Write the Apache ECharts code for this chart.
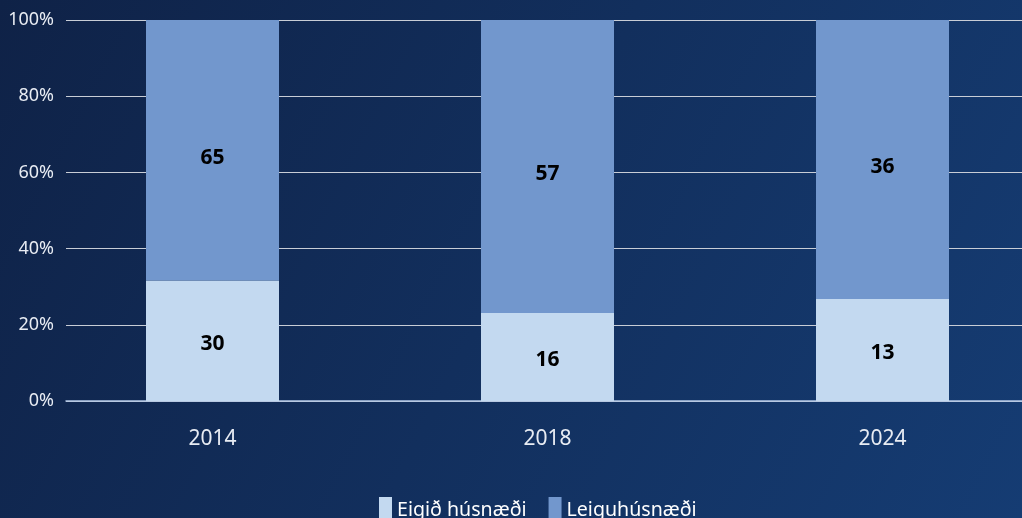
<!DOCTYPE html>
<html>
<head>
<meta charset="utf-8">
<script src="https://cdn.jsdelivr.net/npm/echarts@6/dist/echarts.min.js"></script>
<style>
  html, body { margin: 0; padding: 0; }
  #chart { width: 1022px; height: 518px; }
</style>
</head>
<body>
<div id="chart"></div>
<script>
const years = ['2014', '2018', '2024']
const seriesNames = ['Eigið húsnæði', 'Leiguhúsnæði']
// numbers printed on the bars
const eigidLabels = [30, 16, 13]
const leiguLabels = [65, 57, 36]
// bar heights, % of each year
const eigidPct = [31.6, 23.1, 26.8]
const leiguPct = [68.4, 76.9, 73.2]

const chart = echarts.init(document.getElementById('chart'))

const labelStyle = (dy) => ({
  show: true,
  position: 'inside',
  offset: [0, dy],
  color: '#000',
  fontWeight: 'bold',
  fontSize: 21,
  fontFamily: 'Noto Sans',
  formatter: p => p.data.raw
})

chart.setOption({
  backgroundColor: new echarts.graphic.LinearGradient(0, 0, 1, 1, [
    { offset: 0, color: '#0f2247' },
    { offset: 1, color: '#153c73' }
  ]),
  textStyle: { fontFamily: 'Noto Sans' },
  grid: [
    // bars
    { left: 45, top: 20, width: 1005, height: 381, outerBoundsMode: 'none' },
    // y axis + gridlines
    { left: 66, top: 20, right: 0, height: 381, outerBoundsMode: 'none' }
  ],
  legend: {
    data: seriesNames,
    bottom: -10,
    left: 374,
    icon: 'rect',
    itemWidth: 13,
    itemHeight: 26,
    itemGap: 22,
    textStyle: { color: '#ffffff', fontSize: 19.6 }
  },
  xAxis: [
    {
      type: 'category',
      gridIndex: 0,
      data: years,
      axisTick: { show: false },
      axisLine: { show: false },
      axisLabel: { color: '#e8ecf3', fontSize: 21, margin: 28 }
    },
    {
      type: 'category',
      gridIndex: 1,
      data: years,
      axisTick: { show: false },
      axisLabel: { show: false },
      axisLine: { show: true, lineStyle: { color: '#b3c7e6', width: 1.5 } }
    }
  ],
  yAxis: [
    {
      type: 'value',
      gridIndex: 0,
      min: 0,
      max: 100,
      show: false,
      splitLine: { show: false }
    },
    {
      type: 'value',
      gridIndex: 1,
      min: 0,
      max: 100,
      interval: 20,
      axisLabel: { color: '#e8ecf3', fontSize: 18, formatter: '{value}%', margin: 12 },
      axisLine: { show: false },
      axisTick: { show: false },
      splitLine: { lineStyle: { color: '#c8cdd6', width: 1 } }
    }
  ],
  series: [
    {
      name: seriesNames[0],
      type: 'bar',
      stack: 'total',
      xAxisIndex: 0,
      yAxisIndex: 0,
      barWidth: 133,
      z: 3,
      itemStyle: { color: '#c3d9f0' },
      label: labelStyle(3),
      data: eigidPct.map((v, i) => ({ value: v, raw: eigidLabels[i] }))
    },
    {
      name: seriesNames[1],
      type: 'bar',
      stack: 'total',
      xAxisIndex: 0,
      yAxisIndex: 0,
      barWidth: 133,
      z: 3,
      itemStyle: { color: '#7297cd' },
      label: labelStyle(8),
      data: leiguPct.map((v, i) => ({ value: v, raw: leiguLabels[i] }))
    }
  ]
})
</script>
</body>
</html>
